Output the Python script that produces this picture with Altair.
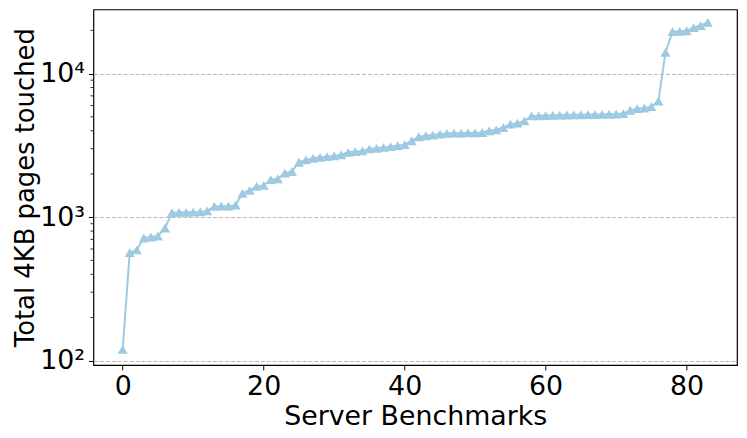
import altair as alt
import pandas as pd

benchmarks = list(range(84))
pages = [120, 566, 591, 716, 727, 739, 839, 1075, 1078, 1080,
         1083, 1088, 1106, 1188, 1192, 1195, 1211, 1466, 1537, 1638,
         1665, 1823, 1852, 2025, 2080, 2412, 2506, 2571, 2612, 2641,
         2671, 2714, 2829, 2860, 2893, 2987, 3015, 3063, 3097, 3150,
         3200, 3406, 3631, 3690, 3732, 3793, 3830, 3845, 3850, 3860,
         3870, 3890, 3997, 4061, 4212, 4446, 4518, 4687, 5075, 5080,
         5100, 5110, 5140, 5150, 5160, 5170, 5180, 5190, 5200, 5210,
         5230, 5265, 5556, 5703, 5760, 5885, 6442, 14040, 19610, 19700,
         19900, 20940, 21610, 22780]
x_ticks = [0, 20, 40, 60, 80]
y_ticks = [100, 1000, 10000]
minor_ticks = [200, 300, 400, 500, 600, 700, 800, 900,
               2000, 3000, 4000, 5000, 6000, 7000, 8000, 9000, 20000]

df = pd.DataFrame({"bench": benchmarks, "pages": pages})
minor_df = pd.DataFrame({"m": minor_ticks})

FONT = "DejaVu Sans"
COLOR = "#9ecae1"

xscale = alt.Scale(domain=[-4.15, 87.15], nice=False, zero=False)
yscale = alt.Scale(type="log", domain=[93.3, 28000], nice=False)

line = alt.Chart(df).mark_line(
    color=COLOR, strokeWidth=2,
    point=alt.OverlayMarkDef(shape="triangle-up", size=105, color=COLOR, filled=True, opacity=1)
).encode(
    x=alt.X("bench:Q", scale=xscale,
            axis=alt.Axis(title="Server Benchmarks", values=x_ticks, grid=False,
                          labelFontSize=27, titleFontSize=27, labelFont=FONT, titleFont=FONT,
                          labelColor="black", titleColor="black", titleFontWeight="normal",
                          tickColor="black", tickSize=5, domain=False,
                          labelPadding=4, titlePadding=4)),
    y=alt.Y("pages:Q", scale=yscale,
            axis=alt.Axis(title="Total 4KB pages touched", values=y_ticks,
                          labelExpr="datum.value == 100 ? '10²' : datum.value == 1000 ? '10³' : '10⁴'",
                          grid=True, gridDash=[4, 2], gridColor="#b0b0b0", gridWidth=0.9,
                          labelFontSize=27, titleFontSize=26, labelFont=FONT, titleFont=FONT,
                          labelColor="black", titleColor="black", titleFontWeight="normal",
                          tickColor="black", tickSize=5, domain=False,
                          labelPadding=4, titlePadding=1)),
)

minor = alt.Chart(minor_df).mark_rule(color="black", strokeWidth=0.8).encode(
    y=alt.Y("m:Q", scale=yscale),
    x=alt.value(0), x2=alt.value(-3),
)

chart = alt.layer(minor, line).properties(
    width=648, height=358,
    autosize=alt.AutoSizeParams(type="none"),
    padding={"left": 86, "top": 0, "right": 2, "bottom": 64},
    background="white",
).configure_view(stroke="black", strokeWidth=1.2)

chart.save("out.html", embed_options={"renderer": "svg", "actions": False})
